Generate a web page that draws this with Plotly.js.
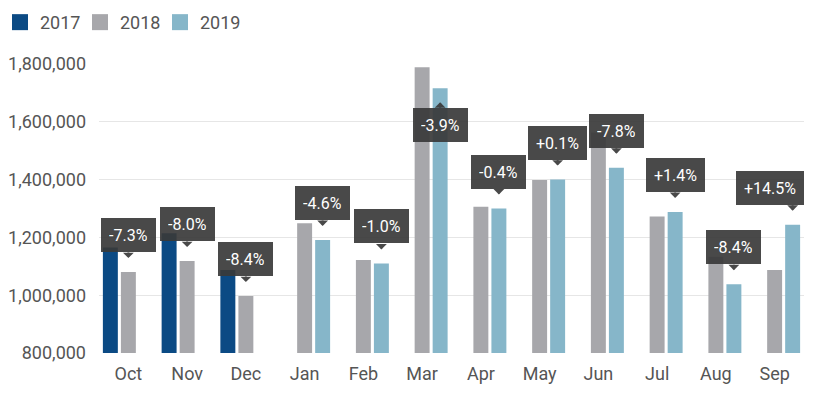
<!DOCTYPE html>
<html>
<head>
<meta charset="utf-8">
<script src="https://cdn.plot.ly/plotly-3.0.1.min.js"></script>
<style>html,body{margin:0;padding:0;background:#fff;}#chart{width:820px;height:395px;}</style>
</head>
<body>
<div id="chart"></div>
<script>
var months = ['Oct','Nov','Dec','Jan','Feb','Mar','Apr','May','Jun','Jul','Aug','Sep'];
var v2017 = [1165000, 1214000, 1087000, null, null, null, null, null, null, null, null, null];
var v2018 = [1080000, 1118000, 997000, 1249000, 1122000, 1789000, 1306000, 1399000, 1563000, 1272000, 1133000, 1087000];
var v2019 = [null, null, null, 1191000, 1110000, 1716000, 1300000, 1400000, 1441000, 1288000, 1038000, 1244000];
var changes = ['-7.3%','-8.0%','-8.4%','-4.6%','-1.0%','-3.9%','-0.4%','+0.1%','-7.8%','+1.4%','-8.4%','+14.5%'];
var yTicks = [800000, 1000000, 1200000, 1400000, 1600000, 1800000];

var colors = {y2017:'#0b4a84', y2018:'#a7a7ab', y2019:'#86b6c9'};
var FONT = 'Roboto, "Open Sans", Arial, sans-serif';
var TIPCOL = 'rgba(58,58,58,0.92)';
var TIPFONT = 16, TIPPAD = 8;
var bargap = 0.08;
var yRange = [800000, 1800000];
var M = {l:99, r:16, t:64, b:42};
var W = 820, H = 395;
var plotW = W - M.l - M.r, plotH = H - M.t - M.b;

var series = [
  {name:'2017', y:v2017, color:colors.y2017},
  {name:'2018', y:v2018, color:colors.y2018},
  {name:'2019', y:v2019, color:colors.y2019}
];
var idx = months.map(function(m,i){return i;});

var traces = [];
series.forEach(function(s){
  traces.push({type:'bar', name:s.name, x:idx, y:s.y, legendgroup:s.name, showlegend:false,
          marker:{color:s.color}, hoverinfo:'skip'});
});
// legend swatches (no data drawn)
series.forEach(function(s){
  traces.push({type:'scatter', mode:'markers', name:s.name, x:[null], y:[null], legendgroup:s.name,
          marker:{color:s.color, symbol:'square', size:16}, hoverinfo:'skip'});
});

var ctx = document.createElement('canvas').getContext('2d');
ctx.font = TIPFONT + 'px Roboto';

var slot = (1 - bargap) / series.length;
var annotations = [];
months.forEach(function(m, i){
  var si = v2019[i] != null ? 2 : 1;
  var val = series[si].y[i];
  var xx = i + (si - 1) * slot;
  var pxFromTop = (yRange[1] - val) / (yRange[1] - yRange[0]) * plotH;
  var flip = pxFromTop < 58;
  // keep tooltip box inside plot width
  var boxW = ctx.measureText(changes[i]).width + 2 * TIPPAD;
  var cx = (xx + 0.5) / months.length * plotW;
  var shift = 0;
  if (cx + boxW / 2 > plotW) shift = plotW - boxW / 2 - cx;
  if (cx - boxW / 2 < 0) shift = boxW / 2 - cx;
  annotations.push({x:xx, y:val, xref:'x', yref:'y', text:changes[i], showarrow:false,
    xanchor:'center', yanchor: flip ? 'top' : 'bottom', yshift: flip ? -20 : 20, xshift:shift,
    bgcolor:TIPCOL, borderpad:TIPPAD, borderwidth:0, height:18,
    font:{family:FONT, size:TIPFONT, color:'#ffffff'}});
  annotations.push({x:xx, y:val, xref:'x', yref:'y', text:'', showarrow:true,
    arrowhead:1, arrowsize:0.9, arrowwidth:2, arrowcolor:TIPCOL, standoff:0, borderpad:0,
    ax:0, ay: flip ? 6 : -6, yshift: flip ? -14 : 14});
});

var layout = {
  width:W, height:H,
  margin:M,
  paper_bgcolor:'#fff', plot_bgcolor:'#fff',
  barmode:'group', bargap:bargap, bargroupgap:0.17,
  showlegend:true,
  legend:{orientation:'h', xref:'container', yref:'container', x:-0.012, y:0.99, xanchor:'left', yanchor:'top',
          font:{family:FONT, size:18, color:'#555'}, entrywidth:35, entrywidthmode:'pixels', traceorder:'normal',
          itemclick:false},
  xaxis:{type:'linear', tickvals:idx, ticktext:months,
         range:[-0.5, months.length-0.5], showgrid:false, zeroline:false, showline:false, ticks:'',
         ticklabelstandoff:8, tickfont:{family:FONT, size:18, color:'#555'}},
  yaxis:{range:yRange, tickvals:yTicks, tickformat:',', showgrid:true, gridcolor:'#e6e6e6',
         gridwidth:1, zeroline:false, showline:false, ticks:'', ticklabelstandoff:12,
         tickfont:{family:FONT, size:18, color:'#555'}},
  annotations:annotations,
  hovermode:false
};

Plotly.newPlot('chart', traces, layout, {displayModeBar:false, staticPlot:true});
</script>
</body>
</html>
